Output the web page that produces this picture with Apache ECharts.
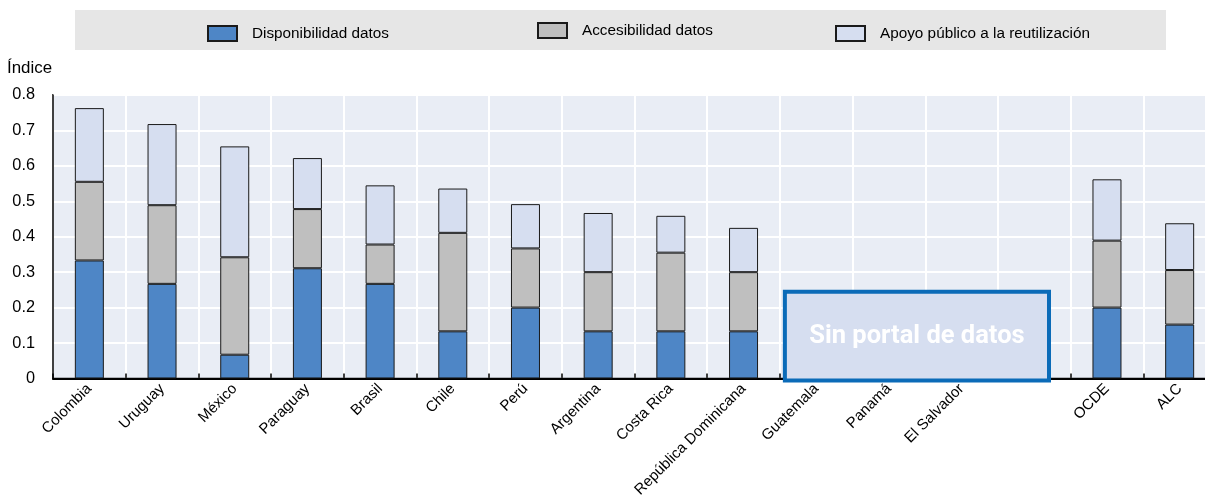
<!DOCTYPE html>
<html><head><meta charset="utf-8">
<script src="https://cdn.jsdelivr.net/npm/echarts@6/dist/echarts.min.js"></script>
<style>html,body{margin:0;padding:0;background:#fff;overflow:hidden;width:1205px;height:500px}#c{width:1216px;height:500px}</style>
</head><body><div id="c"></div><script>
// ---- data ----
const categories = ['Colombia','Uruguay','México','Paraguay','Brasil','Chile','Perú','Argentina','Costa Rica','República Dominicana','Guatemala','Panamá','El Salvador','','OCDE','ALC'];
const disponibilidad = [0.333,0.267,0.067,0.311,0.267,0.133,0.200,0.133,0.133,0.133,null,null,null,null,0.200,0.152];
const accesibilidad  = [0.222,0.222,0.275,0.167,0.111,0.278,0.167,0.167,0.222,0.167,null,null,null,null,0.189,0.154];
const apoyo          = [0.208,0.229,0.313,0.144,0.167,0.125,0.125,0.167,0.104,0.125,null,null,null,null,0.173,0.132];
const seriesNames = ['Disponibilidad datos','Accesibilidad datos','Apoyo público a la reutilización'];
const yTickLabels = ['0','0.1','0.2','0.3','0.4','0.5','0.6','0.7','0.8'];
const noPortalCats = ['Guatemala','Panamá','El Salvador',''];
const noPortalLabel = 'Sin portal de datos';
const noPortalTop = 0.25;

const FF = "'Liberation Sans', Arial, sans-serif";
const colors = ['#4E86C6','#BFBFBF','#D6DEF0'];
const chart = echarts.init(document.getElementById('c'), null, {renderer:'canvas'});

function mkSeries(name, data, i){
  return {name, type:'bar', stack:'total', data, barWidth:29,
    itemStyle:{color:colors[i], borderColor:'#1a1a1a', borderWidth:1},
    emphasis:{disabled:true}, animation:false};
}
function mkLegend(name, left, top){
  return {data:[{name, icon:'rect'}], left, top, padding:0, itemWidth:29, itemHeight:15,
    textStyle:{fontFamily:FF, fontSize:15.3, color:'#000', padding:[0,0,0,10]},
    selectedMode:false};
}

chart.setOption({
  animation:false,
  color:colors,
  title:{text:'Índice', left:7, top:60, padding:0,
    textStyle:{fontFamily:FF, fontSize:16.9, fontWeight:'normal', color:'#000'}},
  legend:[mkLegend(seriesNames[0],207,25), mkLegend(seriesNames[1],537,22), mkLegend(seriesNames[2],835,25)],
  grid:{left:53, top:95, right:0, bottom:120, show:true, backgroundColor:'#E9EDF5',
    borderColor:'#000', borderWidth:1.5, containLabel:false},
  xAxis:{type:'category', data:categories,
    axisLine:{lineStyle:{color:'#000', width:2}},
    axisTick:{show:true, inside:true, length:5, lineStyle:{color:'#000', width:1.5}},
    splitLine:{show:true, interval:0, lineStyle:{color:'#fff', width:2}},
    axisLabel:{interval:0, rotate:45, margin:8, fontFamily:FF, fontSize:15, color:'#000'}},
  yAxis:{type:'value', min:0, max:0.8, interval:0.1,
    axisLine:{show:true, lineStyle:{color:'#000', width:1.5}},
    axisTick:{show:false},
    splitLine:{lineStyle:{color:'#fff', width:2}},
    axisLabel:{margin:18, fontFamily:FF, fontSize:16.3, color:'#000',
      formatter:(v)=>yTickLabels[Math.round(v*10)]}},
  series:[mkSeries(seriesNames[0],disponibilidad,0), mkSeries(seriesNames[1],accesibilidad,1), mkSeries(seriesNames[2],apoyo,2)]
});

// annotation + legend band
const c0 = chart.convertToPixel({xAxisIndex:0}, noPortalCats[0]);
const band = chart.convertToPixel({xAxisIndex:0}, categories[1]) - chart.convertToPixel({xAxisIndex:0}, categories[0]);
const cLast = chart.convertToPixel({xAxisIndex:0}, noPortalCats[noPortalCats.length-1]);
const yTop = chart.convertToPixel({yAxisIndex:0}, noPortalTop);
const y0 = chart.convertToPixel({yAxisIndex:0}, 0);
const bx0 = c0 - band/2 + 3, bx1 = cLast + band*0.23;
const lw = 4;
chart.setOption({
  graphic:[
    {type:'rect', z:-10, silent:true, shape:{x:75, y:10, width:1091, height:40}, style:{fill:'#E6E6E6'}},
    {type:'rect', z:100, silent:true,
      shape:{x:bx0+lw/2, y:yTop+lw/2, width:bx1-bx0-lw, height:y0-yTop},
      style:{fill:'#D6DEF0', stroke:'#0B6BB8', lineWidth:lw}},
    {type:'text', z:101, silent:true, x:(bx0+bx1)/2, y:(yTop+y0+lw)/2,
      style:{text:noPortalLabel, fill:'#fff', font:"bold 25.5px Roboto, 'Liberation Sans', sans-serif", align:'center', verticalAlign:'middle'}}
  ]
});
</script></body></html>
